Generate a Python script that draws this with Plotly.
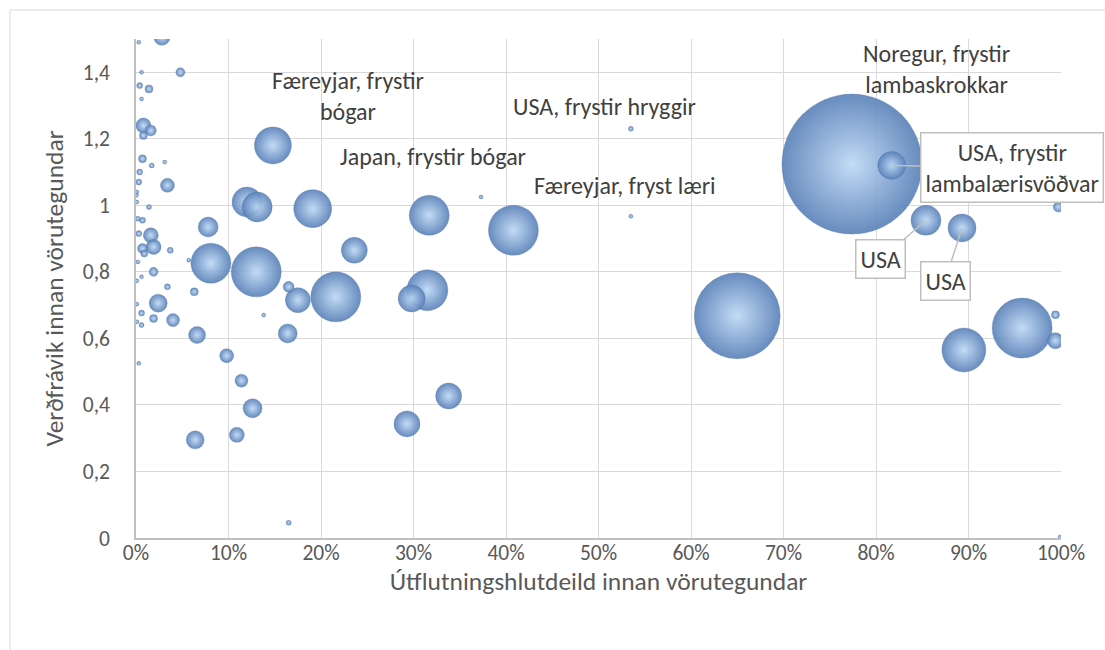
import plotly.graph_objects as go

# ---- data ----
export_share = [0.028, 0.003, 0.048, 0.006, 0.004, 0.014, 0.006, 0.008, 0.016, 0.008,
                0.148, 0.007, 0.017, 0.031, 0.004, 0.003, 0.034, 0.001, 0.0005, 0.001,
                0.014, 0.120, 0.131, 0.078, 0.002, 0.007, 0.016, 0.003, 0.019, 0.007,
                0.009, 0.037, 0.002, 0.057, 0.081, 0.130, 0.019, 0.001, 0.006, 0.034,
                0.063, 0.024, 0.001, 0.006, 0.019, 0.040, 0.006, 0.001, 0.066, 0.098,
                0.114, 0.003, 0.126, 0.109, 0.064, 0.165,
                0.236, 0.165, 0.175, 0.216, 0.138, 0.164, 0.315, 0.298, 0.293, 0.338,
                0.191, 0.317, 0.408, 0.373, 0.535, 0.535, 0.650,
                0.774, 0.817, 0.854, 0.893, 0.997, 0.895, 0.958, 0.994, 0.994, 0.999]
price_dev = [1.505, 1.49, 1.40, 1.40, 1.36, 1.35, 1.32, 1.24, 1.225, 1.21,
             1.18, 1.14, 1.12, 1.13, 1.10, 1.07, 1.06, 1.04, 1.03, 1.01,
             0.995, 1.01, 0.995, 0.935, 0.96, 0.955, 0.91, 0.915, 0.875, 0.87,
             0.855, 0.865, 0.83, 0.835, 0.826, 0.80, 0.80, 0.773, 0.785, 0.755,
             0.74, 0.706, 0.703, 0.676, 0.66, 0.655, 0.64, 0.65, 0.61, 0.548,
             0.473, 0.525, 0.39, 0.31, 0.295, 0.046,
             0.865, 0.755, 0.715, 0.725, 0.67, 0.615, 0.745, 0.72, 0.343, 0.427,
             0.99, 0.97, 0.925, 1.025, 1.23, 0.967, 0.668,
             1.124, 1.12, 0.955, 0.932, 0.995, 0.565, 0.631, 0.671, 0.593, 0.003]
export_volume = [256, 4, 81, 9, 36, 64, 4, 225, 121, 64,
                 1369, 64, 25, 4, 36, 36, 196, 16, 9, 9,
                 25, 900, 900, 400, 25, 36, 225, 36, 225, 100,
                 49, 36, 16, 4, 1600, 2500, 81, 16, 9, 36,
                 64, 324, 9, 36, 64, 169, 25, 9, 289, 196,
                 169, 9, 361, 225, 324, 25,
                 676, 121, 625, 2500, 9, 361, 1681, 729, 676, 676,
                 1444, 1600, 2500, 16, 25, 16, 7396,
                 19600, 784, 900, 784, 100, 1936, 3600, 64, 256, 9]

x_tick_vals = [0, 0.1, 0.2, 0.3, 0.4, 0.5, 0.6, 0.7, 0.8, 0.9, 1.0]
x_tick_text = ["0%", "10%", "20%", "30%", "40%", "50%", "60%", "70%", "80%", "90%", "100%"]
y_tick_vals = [0, 0.2, 0.4, 0.6, 0.8, 1.0, 1.2, 1.4]
y_tick_text = ["0", "0,2", "0,4", "0,6", "0,8", "1", "1,2", "1,4"]

# free text labels: (text, x, y)
text_labels = [
    ("Færeyjar, frystir<br>bógar", 0.229, 1.328),
    ("Japan, frystir bógar", 0.321, 1.148),
    ("USA, frystir hryggir", 0.507, 1.298),
    ("Færeyjar, fryst læri", 0.529, 1.061),
    ("Noregur, frystir<br>lambaskrokkar", 0.865, 1.409),
]
# boxed callouts: (text, x, y of the bubble, ax, ay pixel offset of box)
callouts = [
    ("USA, frystir<br>lambalærisvöðvar", 0.817, 1.12, 120, 2),
    ("USA", 0.854, 0.955, -45, 39),
    ("USA", 0.893, 0.932, -17, 53),
]

FONT = "Carlito, Lato, 'Liberation Sans', sans-serif"
MAX_DIAM = 140

# draw large bubbles first so small ones sit on top
order = sorted(range(len(export_volume)), key=lambda i: -export_volume[i])
xs = [export_share[i] for i in order]
ys = [price_dev[i] for i in order]
ss = [export_volume[i] for i in order]

fig = go.Figure()
fig.add_trace(go.Scatter(
    x=xs, y=ys, mode="markers",
    marker=dict(
        size=ss, sizemode="area", sizeref=2.0 * max(export_volume) / MAX_DIAM ** 2,
        sizemin=2,
        color="#5880b8",
        gradient=dict(type="radial", color="#bdd8f5"),
        opacity=0.9,
        line=dict(width=0.6, color="rgba(75,110,160,0.55)"),
    ),
    hoverinfo="skip",
    showlegend=False,
))

annotations = []
for t, x, y in text_labels:
    annotations.append(dict(text=t, x=x, y=y, xref="x", yref="y", showarrow=False,
                            font=dict(family=FONT, size=24, color="#404040"),
                            xanchor="center", yanchor="middle"))
for t, x, y, ax, ay in callouts:
    annotations.append(dict(text=t, x=x, y=y, xref="x", yref="y", showarrow=True,
                            ax=ax, ay=ay, arrowhead=0, arrowwidth=1.5,
                            arrowcolor="#bfbfbf", standoff=0, startstandoff=0,
                            bordercolor="#bfbfbf", borderwidth=1.5, borderpad=4,
                            bgcolor="white",
                            font=dict(family=FONT, size=24, color="#404040")))

fig.update_layout(
    width=1105, height=650,
    margin=dict(l=136, r=44, t=39, b=112),
    paper_bgcolor="white", plot_bgcolor="white",
    font=dict(family=FONT, color="#595959"),
    separators=",.",
    annotations=annotations,
    shapes=[dict(type="rect", xref="paper", yref="paper",
                 x0=(10 - 136) / 925, x1=(1120 - 136) / 925,
                 y0=(538.5 - 670) / 499.5, y1=(538.5 - 10) / 499.5,
                 line=dict(color="#d9d9d9", width=1), layer="below")],
    xaxis=dict(range=[0, 1], tickvals=x_tick_vals, ticktext=x_tick_text,
               showgrid=True, gridcolor="#d9d9d9", gridwidth=1.3,
               showline=True, linecolor="#bfbfbf", linewidth=1.5,
               zeroline=False, ticks="", tickfont=dict(size=21.5, color="#595959"),
               ticklabelstandoff=-6,
               title=dict(text="Útflutningshlutdeild innan vörutegundar",
                          font=dict(size=25.5, color="#595959"), standoff=2),
               automargin=False),
    yaxis=dict(range=[0, 1.5], tickvals=y_tick_vals, ticktext=y_tick_text,
               showgrid=True, gridcolor="#d9d9d9", gridwidth=1.3,
               showline=True, linecolor="#bfbfbf", linewidth=1.5,
               zeroline=False, ticks="", tickfont=dict(size=21.5, color="#595959"),
               ticklabelstandoff=20,
               title=dict(text="Verðfrávik innan vörutegundar",
                          font=dict(size=25.5, color="#595959"), standoff=12),
               automargin=False),
)

fig.write_html("out.html", config={"displayModeBar": False},
               post_script="document.body.style.margin='0px';")
